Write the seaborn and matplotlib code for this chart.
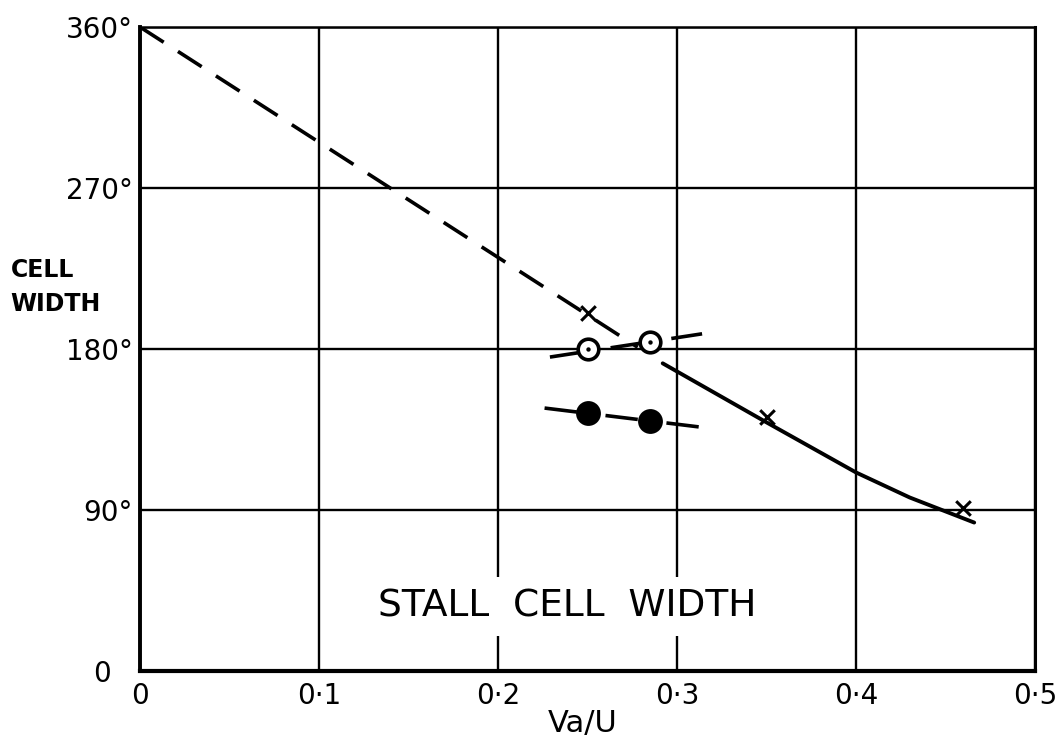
import matplotlib
matplotlib.use("Agg")
import matplotlib.pyplot as plt
import matplotlib.transforms as mtransforms
import seaborn as sns
import pandas as pd

# ---- data ----
dash_x = [0.0, 0.278]
dash_y = [360, 181]

cross_x = [0.25, 0.35, 0.46]
cross_y = [200, 142, 91]

open_x = [0.25, 0.285]
open_y = [180, 184]
open_line_x = [0.229, 0.314]
open_line_y = [175.5, 188.5]

filled_x = [0.25, 0.285]
filled_y = [144, 140]
filled_line_x = [0.226, 0.316]
filled_line_y = [147, 136]

solid_x = [0.292, 0.35, 0.40, 0.43, 0.466]
solid_y = [172, 139, 111, 97, 83]

xticks = [0, 0.1, 0.2, 0.3, 0.4, 0.5]
xticklabels = ["0", "0·1", "0·2", "0·3", "0·4", "0·5"]
yticks = [0, 90, 180, 270, 360]
yticklabels = ["0", "90°", "180°", "270°", "360°"]

sns.set_style("white")
plt.rcParams["font.family"] = ["DejaVu Sans"]

fig = plt.figure(figsize=(10.63, 7.40), dpi=100)
ax = fig.add_axes([0.1317, 0.0932, 0.842, 0.8703])

k = "black"
sns.lineplot(x=dash_x, y=dash_y, ax=ax, color=k, lw=2.6,
             linestyle=(0, (7.8, 4.7)))
sns.lineplot(x=open_line_x, y=open_line_y, ax=ax, color=k, lw=2.6,
             linestyle=(0, (9, 8)))
sns.lineplot(x=filled_line_x, y=filled_line_y, ax=ax, color=k, lw=2.6,
             linestyle=(0, (9, 8)))
sns.lineplot(x=solid_x, y=solid_y, ax=ax, color=k, lw=2.8)

sns.scatterplot(x=cross_x, y=cross_y, ax=ax, marker="x", s=110, color=k,
                linewidth=2.2, zorder=5)
sns.scatterplot(x=open_x, y=open_y, ax=ax, marker="o", s=220, facecolor="white",
                edgecolor=k, linewidth=2.6, zorder=6)
sns.scatterplot(x=open_x, y=open_y, ax=ax, marker="o", s=10, color=k,
                linewidth=0, zorder=7)
sns.scatterplot(x=filled_x, y=filled_y, ax=ax, marker="o", s=320, color=k,
                linewidth=0, zorder=6)

ax.set_xlim(0, 0.5)
ax.set_ylim(0, 360)
ax.set_xticks(xticks)
ax.set_xticklabels(xticklabels)
ax.set_yticks(yticks)
ax.set_yticklabels(yticklabels)
ax.tick_params(axis="both", length=0, labelsize=20, colors=k)
ax.tick_params(axis="x", pad=8)
ax.tick_params(axis="y", pad=5)
ax.grid(True, color=k, lw=1.7)
ax.set_axisbelow(True)
for side, w in [("left", 2.8), ("bottom", 3.0), ("top", 1.8), ("right", 2.2)]:
    ax.spines[side].set_visible(True)
    ax.spines[side].set_color(k)
    ax.spines[side].set_linewidth(w)
ax.set_xlabel("")
ax.set_ylabel("")

# the "0" on the y axis sits further left in the reference
zero_lbl = ax.get_yticklabels()[0]
zero_lbl.set_transform(zero_lbl.get_transform() +
                       mtransforms.ScaledTranslation(-0.22, 0, fig.dpi_scale_trans))

ax.text(0.2385, 36, "STALL  CELL  WIDTH", ha="center", va="center", fontsize=27,
        color=k, zorder=8,
        bbox=dict(facecolor="white", edgecolor="none", pad=8))
fig.text(0.010, 0.612, "CELL\nWIDTH", ha="left", va="center", fontsize=17,
         fontweight="bold", color=k, linespacing=1.5)
fig.text(0.548, 0.022, "Va/U", ha="center", va="center", fontsize=22, color=k)

fig.savefig("out.png", dpi=100, facecolor="white")
